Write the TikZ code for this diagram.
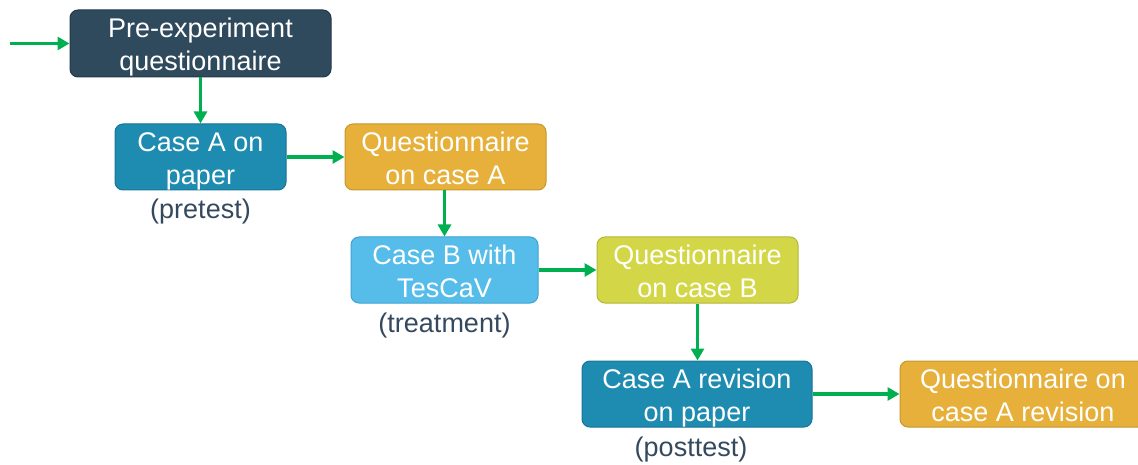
\documentclass[tikz,border=0pt]{standalone}
\usepackage{fontspec}
\setmainfont{Liberation Sans}
\usetikzlibrary{arrows.meta}
\definecolor{slate}{HTML}{2F4A5C}
\definecolor{slateline}{HTML}{22384A}
\definecolor{teal}{HTML}{1E8BB0}
\definecolor{tealline}{HTML}{187496}
\definecolor{amber}{HTML}{E6B03A}
\definecolor{amberline}{HTML}{C4962E}
\definecolor{sky}{HTML}{56BDEB}
\definecolor{skyline}{HTML}{3EA2D0}
\definecolor{lime}{HTML}{D3D747}
\definecolor{limeline}{HTML}{B3B73A}
\definecolor{flow}{HTML}{00B050}
\definecolor{caption}{HTML}{34495E}
% two centred lines, set a little low in their box
\newcommand{\twolines}[2]{\raisebox{-10.5pt}[0pt][0pt]{\begin{tabular}{@{}c@{}}#1\\#2\end{tabular}}}
\tikzset{
  stepbox/.style={rounded corners=8pt, line width=1pt, text=white,
    inner sep=0pt, minimum height=66pt,
    font=\fontsize{27}{33}\selectfont},
  note/.style={text=caption, inner sep=0pt, font=\fontsize{27}{33}\selectfont},
  flowarrow/.style={draw=flow, line width=3.2pt,
    -{Triangle[length=12pt,width=13pt]}}
}
\begin{document}
\begin{tikzpicture}[x=1pt,y=-1pt]
\useasboundingbox (0,0) rectangle (1138,465);
% process steps
\node[stepbox, fill=slate, draw=slateline, minimum width=261pt, minimum height=67pt] (pre) at (200.5,43.5) {\twolines{Pre-experiment}{questionnaire}};
\node[stepbox, fill=teal, draw=tealline, minimum width=171pt] (caseA) at (200.5,157) {\twolines{Case A on}{paper}};
\node[stepbox, fill=amber, draw=amberline, minimum width=201pt] (qA) at (445.5,157) {\twolines{Questionnaire}{on case A}};
\node[stepbox, fill=sky, draw=skyline, minimum width=187pt] (caseB) at (444.5,270) {\twolines{Case B with}{TesCaV}};
\node[stepbox, fill=lime, draw=limeline, minimum width=201pt] (qB) at (697.5,270) {\twolines{Questionnaire}{on case B}};
\node[stepbox, fill=teal, draw=tealline, minimum width=230pt] (rev) at (697,394) {\twolines{Case A revision}{on paper}};
\node[stepbox, fill=amber, draw=amberline, minimum width=246pt] (qrev) at (1023,394) {\twolines{Questionnaire on}{case A revision}};
% phase captions
\node[note] (pretest) at (200.5,212) {(pretest)};
\node[note] (treat) at (444.5,326) {(treatment)};
\node[note] (post) at (691,450) {(posttest)};
% connectors
\coordinate (start) at (10,43.5);
\draw[flowarrow] (start) -- (pre.west);
\draw[flowarrow] (pre.south -| caseA.north) -- (caseA.north);
\draw[flowarrow] (caseA.east) -- (qA.west);
\draw[flowarrow] ([xshift=-1pt]qA.south) -- ([xshift=-1pt]caseB.north -| qA.south);
\draw[flowarrow] (caseB.east) -- (caseB.east -| qB.west);
\draw[flowarrow] (qB.south) -- (qB.south |- rev.north);
\draw[flowarrow] (rev.east) -- (qrev.west);
\end{tikzpicture}
\end{document}
